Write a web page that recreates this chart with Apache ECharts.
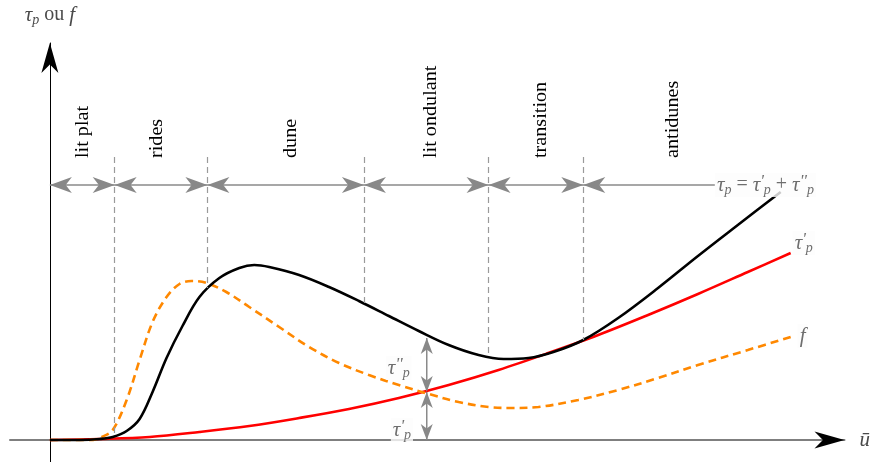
<!DOCTYPE html>
<html>
<head>
<meta charset="utf-8">
<script src="https://cdn.jsdelivr.net/npm/echarts@6/dist/echarts.min.js"></script>
<style>html,body{margin:0;padding:0;background:#fff}#c{width:873px;height:462px}</style>
</head>
<body>
<div id="c"></div>
<script>
// ---- data (x = flow velocity u, y = stress), arbitrary units ----
const tauP = [[0,0],[30,0],[50,1],[63,3],[77,9],[90,21],[103,48],[117,82],[133,114],[150,143],[170,162],[190,172],[205,175],[220,173],[250,165],[280,153],[310,139],[340,124],[370,109],[400,95],[430,85],[455,81],[480,82],[505,88],[535,100],[570,122],[610,152],[650,184],[690,215],[733,248]];
const tauPrime = [[0,0],[50,1],[100,3],[150,8],[200,14],[250,22],[300,31],[350,42],[400,55],[450,70],[500,87],[550,105],[600,125],[650,146],[700,168],[743,187]];
const fCurve = [[0,0],[40,0],[52,3],[63,10],[77,40],[90,80],[103,118],[117,143],[130,156],[142,159],[157,157],[177,148],[200,133],[230,113],[260,93],[290,77],[320,65],[350,55],[380,46],[410,38],[440,33],[465,32],[490,33],[530,40],[570,50],[610,62],[650,75],[700,90],[743,103]];
const regimeNames = ['lit plat','rides','dune','lit ondulant','transition','antidunes'];
const regimeLabelX = [33,108,242,383,493,625];
const regimeBounds = [65,158,315,440,535];
const boundBottom = [3,152,137,84,100];
const regimeLineEnd = 667;
const tauX = 378, tauTop = 102, tauMid = 48;

// ---- layout constants ----
const X_MIN=-40, X_MAX=797, Y_MIN=-22, Y_MAX=397;
const REGIME_Y = 255, BOUND_TOP = 283, REGION_LABEL_Y = 282;
const GRAY = '#8a8a8a', TXT = '#4a4a4a';
const SERIF = '"Liberation Serif","Times New Roman",serif';

const mathRich = {
  t:{fontFamily:SERIF,fontStyle:'italic',fontSize:21,color:TXT,verticalAlign:'middle',lineHeight:24},
  r:{fontFamily:SERIF,fontSize:20,color:TXT,verticalAlign:'middle',lineHeight:24},
  s:{fontFamily:SERIF,fontStyle:'italic',fontSize:14,color:TXT,verticalAlign:'bottom',lineHeight:13},
  u:{fontFamily:SERIF,fontStyle:'italic',fontSize:17,color:TXT,verticalAlign:'top',lineHeight:15}
};

function arrowRender(color, len, wid){
  return function(params, api){
    const p = api.coord([api.value(0), api.value(1)]);
    const a = api.value(2)*Math.PI/180;
    const d=[Math.cos(a), -Math.sin(a)], n=[Math.sin(a), Math.cos(a)];
    const pt=(u,v)=>[p[0]+u*d[0]+v*n[0], p[1]+u*d[1]+v*n[1]];
    return {type:'polygon', shape:{points:[pt(0,0),pt(-len,-wid/2),pt(-len*0.72,0),pt(-len,wid/2)]}, style:{fill:color}};
  };
}

const regimeArrows = [[0,REGIME_Y,180]];
regimeBounds.forEach(b=>{regimeArrows.push([b,REGIME_Y,0]);regimeArrows.push([b,REGIME_Y,180]);});
const tauArrows = [[tauX,tauTop,90],[tauX,tauMid,270],[tauX,tauMid,90],[tauX,0,270]];
const axisArrows = [[X_MAX,0,0],[0,Y_MAX,90]];

const mathLabels = [
  {value:[667,REGIME_Y], text:"{t|τ}{s|p}{r| = }{t|τ}{u|'}{s|p}{r| + }{t|τ}{u|''}{s|p}"},
  {value:[745,197], text:"{t|τ}{u|'}{s|p}"},
  {value:[750,104], text:'{t|f}'},
  {value:[337,72], text:"{t|τ}{u|''}{s|p}"},
  {value:[342,10], text:"{t|τ}{u|'}{s|p}"}
];

const chart = echarts.init(document.getElementById('c'));
chart.setOption({
  animation:false,
  grid:{left:10,right:873-847,top:43,bottom:0},
  xAxis:{type:'value',min:X_MIN,max:X_MAX,
    axisLine:{onZero:true,lineStyle:{color:'#7f7f7f',width:2}},
    axisTick:{show:false},axisLabel:{show:false},splitLine:{show:false},
    name:'{t|ū}',nameLocation:'end',nameGap:15,nameTextStyle:{rich:mathRich}},
  yAxis:{type:'value',min:Y_MIN,max:Y_MAX,
    axisLine:{onZero:true,lineStyle:{color:'#000',width:1}},
    axisTick:{show:false},axisLabel:{show:false},splitLine:{show:false},
    name:'{t|τ}{s|p}{r| ou }{t|f}',nameLocation:'end',nameGap:16,nameTextStyle:{rich:mathRich}},
  series:[
    {type:'line',name:'regime',data:[[0,REGIME_Y],[regimeLineEnd,REGIME_Y]],symbol:'none',
      lineStyle:{color:GRAY,width:1.3},z:1,
      markLine:{silent:true,symbol:'none',label:{show:false},
        lineStyle:{color:'#9a9a9a',type:[6,4],width:1.2},
        data:regimeBounds.map((b,i)=>[{coord:[b,BOUND_TOP]},{coord:[b,boundBottom[i]]}])}},
    {type:'line',name:'tauDecomp',data:[[tauX,tauTop],[tauX,0]],symbol:'none',lineStyle:{color:GRAY,width:1.5},z:1},
    {type:'line',name:"τ'p",data:tauPrime,smooth:0.35,symbol:'none',lineStyle:{color:'#ff0000',width:2.6},z:2},
    {type:'line',name:'f',data:fCurve,smooth:0.35,symbol:'none',lineStyle:{color:'#ff8800',width:2.6,type:[8,5]},z:3},
    {type:'line',name:'τp',data:tauP,smooth:0.35,symbol:'none',lineStyle:{color:'#000',width:2.6},z:4},
    {type:'custom',name:'regimeArrows',data:regimeArrows,renderItem:arrowRender('#888',22,16),clip:false,z:5},
    {type:'custom',name:'tauArrows',data:tauArrows,renderItem:arrowRender('#888',16,12),clip:false,z:5},
    {type:'custom',name:'axisArrows',data:axisArrows,renderItem:arrowRender('#000',30,17),clip:false,z:6},
    {type:'custom',name:'regimeLabels',data:regimeLabelX.map(x=>[x,REGION_LABEL_Y]),clip:false,z:6,
      renderItem:function(params,api){
        const p=api.coord([api.value(0),api.value(1)]);
        return {type:'text',x:p[0],y:p[1],rotation:Math.PI/2,scaleX:1.12,
          style:{text:regimeNames[params.dataIndex],fontFamily:SERIF,fontSize:18,fill:'#000',align:'left',verticalAlign:'middle'}};
      }},
    {type:'scatter',name:'mathLabels',symbolSize:0,z:7,silent:true,
      data:mathLabels.map(m=>({value:m.value,label:{show:true,position:'right',distance:0,formatter:m.text,
        rich:mathRich,backgroundColor:'#fdfdfd',padding:[0,2,0,2]}}))}
  ]
});
</script>
</body>
</html>
